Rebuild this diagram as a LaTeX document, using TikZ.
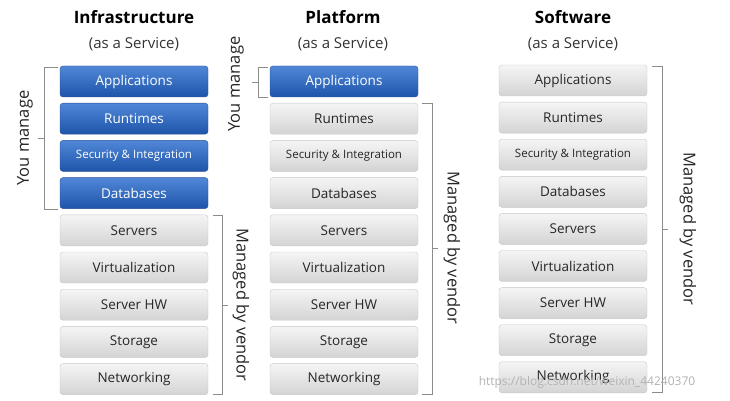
\documentclass[tikz,border=0pt]{standalone}
\usepackage{fontspec}
\setmainfont{Open Sans}
\begin{document}
\begin{tikzpicture}[x=1pt,y=-1pt,
  box/.style={minimum width=148pt,minimum height=31pt,rounded corners=3pt,inner sep=0pt,font=\fontsize{13.5}{13.5}\selectfont},
  blue/.style={box,draw={rgb,255:red,40;green,80;blue,150},top color={rgb,255:red,80;green,135;blue,215},bottom color={rgb,255:red,30;green,85;blue,170},text=white},
  grey/.style={box,draw=black!22,top color=black!4,bottom color=black!17,text=black!85},
  brk/.style={draw=black!45,line width=0.9pt},
  ttl/.style={font=\bfseries\fontsize{17}{17}\selectfont},
  sub/.style={font=\fontsize{15}{15}\selectfont,text=black!80},
  lab/.style={font=\fontsize{16.5}{16.5}\selectfont,text=black!85}]
\useasboundingbox (0,0) rectangle (730,401);
\def\names{Applications,Runtimes,{\fontsize{11.5}{11.5}\selectfont Security \& Integration},Databases,Servers,Virtualization,Server HW,Storage,Networking}
\foreach \t [count=\i] in \names {
  \pgfmathsetmacro\yy{81.5+(\i-1)*37.2}
  \ifnum\i<5 \node[blue] (a\i) at (134,\yy) {\t};\else\node[grey] (a\i) at (134,\yy) {\t};\fi
  \ifnum\i<2 \node[blue] (b\i) at (344,\yy) {\t};\else\node[grey] (b\i) at (344,\yy) {\t};\fi
  \pgfmathsetmacro\zz{80.5+(\i-1)*37.1}
  \node[grey] (c\i) at (573,\zz) {\t};
}
\node[ttl] (t1) at (134,17) {Infrastructure};
\node[sub] (s1) at (134,44) {(as a Service)};
\node[ttl] (t2) at (343,17) {Platform};
\node[sub] (s2) at (343,44) {(as a Service)};
\node[ttl] (t3) at (573,17) {Software};
\node[sub] (s3) at (573,44) {(as a Service)};
\draw[brk] (58,67)--(44,67)--(44,209)--(58,209) (44,138)--(38,138);
\node[lab,rotate=90] (l1) at (25,138) {You manage};
\draw[brk] (213,215)--(222,215)--(222,394)--(213,394) (222,305)--(228,305);
\node[lab,rotate=-90] (l2) at (241,305) {Managed by vendor};
\draw[brk] (268,67)--(258,67)--(258,97)--(268,97) (258,82)--(252,82);
\node[lab,rotate=90] (l3) at (236,84) {You manage};
\draw[brk] (422,103)--(432,103)--(432,394)--(422,394) (432,248)--(438,248);
\node[lab,rotate=-90] (l4) at (452,248) {Managed by vendor};
\draw[brk] (652,66)--(662,66)--(662,392)--(652,392) (662,229)--(668,229);
\node[lab,rotate=-90] (l5) at (688,229) {Managed by vendor};
\node[text=black!30,font=\fontsize{12}{12}\selectfont] (wm) at (587,382) {https://blog.csdn.net/weixin\_44240370};
\end{tikzpicture}
\end{document}
